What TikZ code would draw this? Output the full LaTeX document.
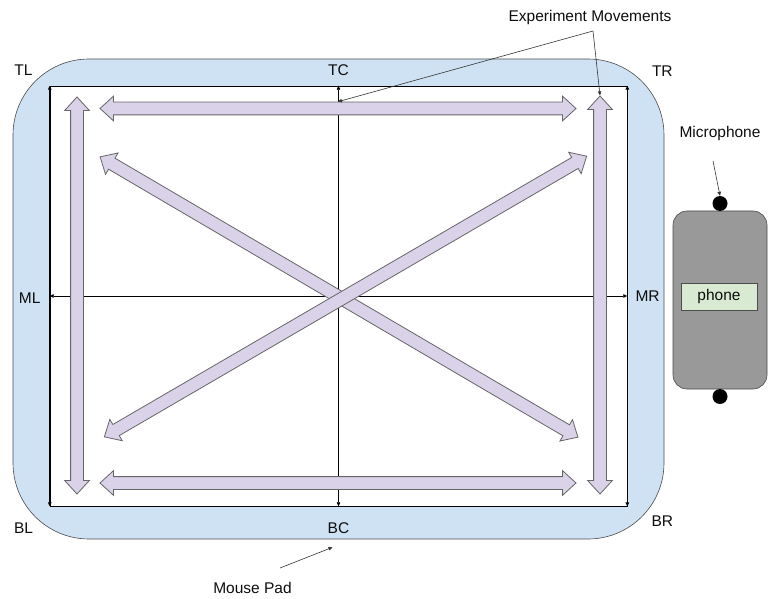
\documentclass[tikz,border=0pt]{standalone}
\usepackage{fontspec}
\setmainfont{Liberation Sans}
\usetikzlibrary{positioning, shapes.arrows, arrows.meta}

\definecolor{padblue}{HTML}{CFE2F3}
\definecolor{movefill}{HTML}{D9D2E9}
\definecolor{phonegrey}{HTML}{999999}
\definecolor{screengreen}{HTML}{D9EAD3}

\tikzset{
  lbl/.style={font=\fontsize{15.5}{18}\selectfont, inner sep=0pt, text=black!95},
  move/.style={double arrow, draw=black!60, fill=movefill, line width=0.8pt,
    inner xsep=0pt, inner ysep=6pt, double arrow head extend=6pt,
    double arrow tip angle=85},
  callout/.style={draw=black!80, line width=0.6pt, -{Triangle[length=4pt,width=3.5pt]}},
  axis/.style={line width=0.6pt, {Triangle[length=4pt,width=3.5pt]}-{Triangle[length=4pt,width=3.5pt]}},
  rail/.style={line width=1.6pt, {Triangle[length=4pt,width=3.5pt]}-{Triangle[length=4pt,width=3.5pt]}},
  mic/.style={circle, fill=black, inner sep=0pt, minimum size=15pt},
}

\begin{document}
\begin{tikzpicture}[x=1pt, y=-1pt]
\useasboundingbox (0,0) rectangle (772,599);

% mouse pad and the area the mouse moves in
\node[draw=black!70, line width=0.6pt, fill=padblue, rounded corners=76pt,
      minimum width=651pt, minimum height=480pt] (pad) at (338.5,299) {};
\node[draw=black, line width=0.6pt, fill=white, minimum width=577pt,
      minimum height=420pt] (board) at (338.5,296) {};

% side rails and centre axes
\draw[rail] (board.north west) -- (board.south west);
\draw[rail] (board.north east) -- (board.south east);
\draw[axis] (board.north) -- (board.south);
\draw[axis] (board.west) -- (board.east);

% position labels
\node[lbl, above left=9.5pt and 17pt of board.north west] (tl) {TL};
\node[lbl, above=9.5pt of board.north] (tc) {TC};
\node[lbl, above right=9pt and 24.5pt of board.north east] (tr) {TR};
\node[lbl, left=9pt of board.west, yshift=-2.5pt] (ml) {ML};
\node[lbl, right=8pt of board.east] (mr) {MR};
\node[lbl, below left=16.5pt and 16.5pt of board.south west] (bl) {BL};
\node[lbl, below=16.5pt of board.south] (bc) {BC};
\node[lbl, below right=9.5pt and 24pt of board.south east] (br) {BR};

% movements
\node[move, minimum height=476pt] (tophz) at (338,108.5) {};
\node[move, minimum height=476pt] (bothz) at (338,483) {};
\node[move, minimum height=397pt, rotate=90] (leftvt) at (77,295.5) {};
\node[move, minimum height=398pt, rotate=90] (rightvt) at (600,295) {};
\node[move, minimum height=554pt, rotate=-30.4] (diagdown) at (339,297) {};
\node[move, minimum height=558pt, rotate=30.2] (diagup) at (345.5,296.5) {};

% phone with its two microphones
\node[draw=black!70, line width=0.6pt, fill=phonegrey, rounded corners=14pt,
      minimum width=94pt, minimum height=178pt] (phone) at (720,300) {};
\node[lbl, draw=black!70, line width=0.6pt, fill=screengreen,
      minimum width=76pt, minimum height=27pt] (screen) at (719,296.5) {phone};
\node[mic] (mictop) at (720,203.5) {};
\node[mic] (micbot) at (720,396.5) {};

% callouts
\node[lbl] (explbl) at (590,17) {Experiment Movements};
\node[lbl] (miclbl) at (720,133) {Microphone};
\node[lbl] (padlbl) at (252.5,588) {Mouse Pad};

\coordinate (split) at (593,31);
\draw[callout] (split) -- (tophz.north);
\draw[callout] (split) -- (rightvt.east);
\coordinate (micfoot) at (713,161);
\draw[callout] (micfoot) -- (mictop.north);
\coordinate (padfoot) at (280,568);
\draw[callout] (padfoot) -- ([xshift=-6pt, yshift=-8pt]pad.south);
\end{tikzpicture}
\end{document}
